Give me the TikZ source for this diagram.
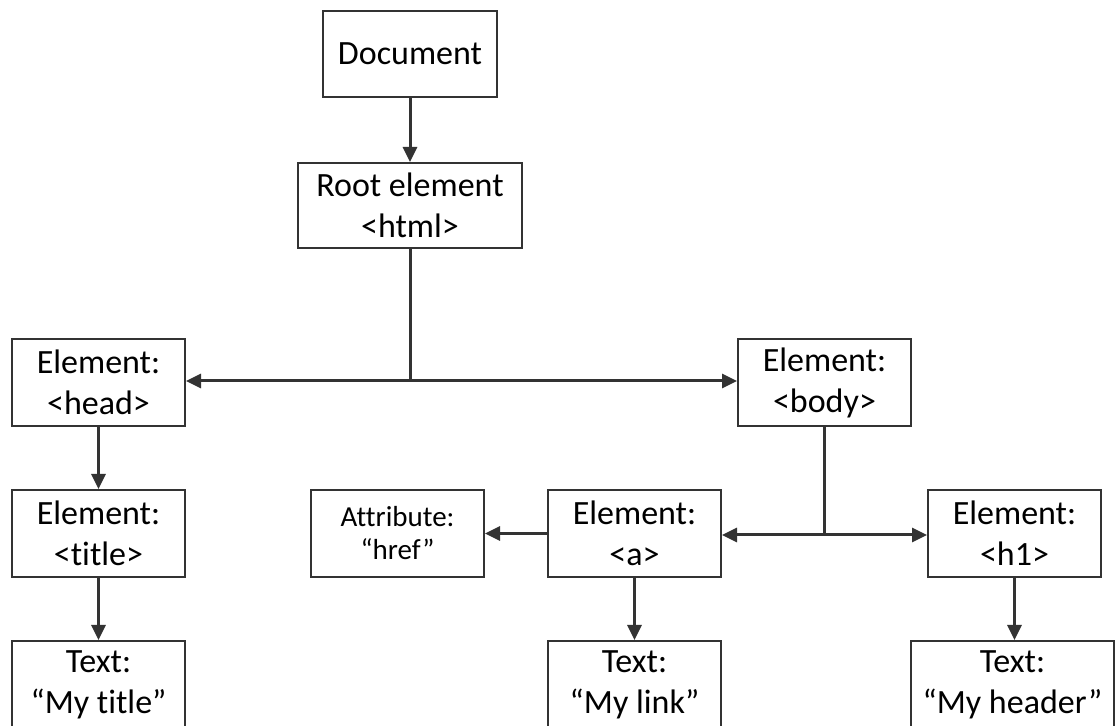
\documentclass[tikz,border=0pt]{standalone}
\usepackage{fontspec}
\setmainfont{Carlito}[Ligatures=NoCommon]
\usepackage{xcolor}
\usetikzlibrary{arrows.meta,positioning,calc}
\definecolor{linegray}{RGB}{51,51,51}

\tikzset{
    box/.style={draw=linegray, line width=1pt, fill=white, align=center,
        minimum width=86.5pt, minimum height=43.5pt, inner sep=2pt,
        font=\fontsize{17}{20.5}\selectfont},
    smallbox/.style={box, font=\fontsize{14.5}{16.5}\selectfont},
    arr/.style={-{Triangle[length=7.5pt,width=7pt]}, line width=1.5pt, linegray},
    link/.style={line width=1.5pt, linegray}
}

\begin{document}
\begin{tikzpicture}[x=0.5pt, y=-0.5pt]
    \useasboundingbox (0,0) rectangle (1115,726);

    % Top of the tree
    \node[box, minimum width=87pt, minimum height=43pt] (doc) at (410,54) {Document};
    \node[box, minimum width=112pt, minimum height=42.5pt] (root) at (410,205.5) {Root element\\<html>};

    % Second level
    \node[box] (head) at (98.5,382.5) {Element:\\<head>};
    \node[box] (body) at (824.5,382.5) {Element:\\<body>};

    % Third level
    \node[box] (title) at (98.5,533.5) {Element:\\<title>};
    \node[smallbox] (attr) at (397.5,533.5) {Attribute:\\“href”};
    \node[box] (anchor) at (634.5,533.5) {Element:\\<a>};
    \node[box] (hone) at (1014.5,533.5) {Element:\\<h1>};

    % Text leaves (cut at the bottom)
    \node[box] (titletext) at (98.5,684.5) {Text:\\“My title”};
    \node[box] (linktext) at (634.5,684.5) {Text:\\“My link”};
    \node[box, minimum width=101.5pt] (headertext) at (1012.5,684.5) {Text:\\“My header”};

    % Connectors
    \draw[arr] (doc.south) -- (root.north);

    \coordinate (rootsplit) at ($(root.south |- head.east)+(0,-1.5)$);
    \draw[link] (root.south) -- (rootsplit);
    \draw[arr] (rootsplit) -- (rootsplit -| head.east);
    \draw[arr] (rootsplit) -- (rootsplit -| body.west);

    \draw[arr] (head.south) -- (title.north);
    \draw[arr] (title.south) -- (titletext.north);

    \coordinate (bodysplit) at ($(body.south |- anchor.east)+(0,1.5)$);
    \draw[link] (body.south) -- (bodysplit);
    \draw[arr] (bodysplit) -- (bodysplit -| anchor.east);
    \draw[arr] (bodysplit) -- (bodysplit -| hone.west);

    \draw[arr] (anchor.west) -- (attr.east);
    \draw[arr] (anchor.south) -- (linktext.north);
    \draw[arr] (hone.south) -- (hone.south |- headertext.north);
\end{tikzpicture}
\end{document}
